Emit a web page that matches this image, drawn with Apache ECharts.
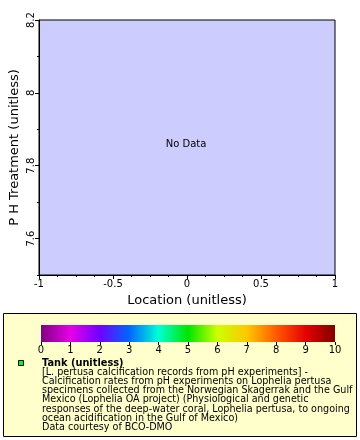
<!DOCTYPE html>
<html>
<head>
<meta charset="utf-8">
<script src="https://cdn.jsdelivr.net/npm/echarts@6/dist/echarts.min.js"></script>
<style>html,body{margin:0;padding:0;background:#fff}#c{width:360px;height:440px}</style>
</head>
<body>
<div id="c"></div>
<script>
// Data (no data points in this chart)
var seriesData = [];
var xMin = -1, xMax = 1, xInterval = 0.5;
var yMin = 7.5, yMax = 8.2, yMinorInterval = 0.1;
var yMajorTicks = [7.6, 7.8, 8.0, 8.2];
var colorbarTicks = [0, 1, 2, 3, 4, 5, 6, 7, 8, 9, 10];
var colorbarColors = ['#800080', '#e600e6', '#7000ff', '#0066ff', '#00ffd5', '#00e600', '#ccff00', '#ffc800', '#ff5a00', '#e60000', '#800000'];
var legendTitle = 'Tank (unitless)';
var legendLines = [
  '[L. pertusa calcification records from pH experiments] -',
  'Calcification rates from pH experiments on Lophelia pertusa',
  'specimens collected from the Norwegian Skagerrak and the Gulf',
  'Mexico (Lophelia OA project) (Physiological and genetic',
  'responses of the deep-water coral, Lophelia pertusa, to ongoing',
  'ocean acidification in the Gulf of Mexico)',
  'Data courtesy of BCO-DMO'
];

var FONT = 'DejaVu Sans';
var chart = echarts.init(document.getElementById('c'), null, {renderer: 'canvas'});

var stops = colorbarColors.map(function (c, i) { return {offset: i / (colorbarColors.length - 1), color: c}; });

var graphics = [
  {type: 'rect', z: -10, shape: {x: 3.5, y: 313.5, width: 353, height: 123}, style: {fill: '#ffffcc', stroke: '#000', lineWidth: 1}},
  {type: 'rect', z: 10, shape: {x: 41, y: 325, width: 294, height: 17}, style: {fill: new echarts.graphic.LinearGradient(0, 0, 1, 0, stops)}},
  {type: 'rect', z: 10, shape: {x: 18.5, y: 360.5, width: 5, height: 5}, style: {fill: '#00ff00', stroke: '#000', lineWidth: 1}},
  {type: 'text', z: 10, x: 42, y: 363, style: {text: legendTitle, font: 'bold 9.8px "' + FONT + '"', fill: '#000', textVerticalAlign: 'middle'}},
  {type: 'text', z: 10, x: 186, y: 144, style: {text: 'No Data', font: '10px "' + FONT + '"', fill: '#000', textAlign: 'center', textVerticalAlign: 'middle'}}
];
legendLines.forEach(function (t, i) {
  graphics.push({type: 'text', z: 10, x: 42, y: 372.4 + i * 9.15, style: {text: t, font: '9.6px "' + FONT + '"', fill: '#000', textVerticalAlign: 'middle'}});
});

var option = {
  animation: false,
  backgroundColor: '#fff',
  textStyle: {fontFamily: FONT},
  grid: [
    {left: 37, top: 20, width: 298, height: 255, show: true, backgroundColor: '#ccccff', borderWidth: 1, borderColor: '#000'},
    {left: 41, top: 325, width: 294, height: 17, show: false}
  ],
  xAxis: [
    {
      type: 'value', gridIndex: 0, min: xMin, max: xMax, interval: xInterval,
      name: 'Location (unitless)', nameLocation: 'middle', nameGap: 18,
      nameTextStyle: {fontSize: 13, color: '#000', fontFamily: FONT},
      axisLine: {show: true, onZero: false, lineStyle: {color: '#000', width: 1}},
      axisTick: {show: true, length: 4, lineStyle: {color: '#000'}},
      minorTick: {show: true, splitNumber: 4, length: 2, lineStyle: {color: '#000'}},
      splitLine: {show: false},
      axisLabel: {fontSize: 10, color: '#000', margin: 4, fontFamily: FONT, showMinLabel: true, showMaxLabel: true}
    },
    {
      type: 'value', gridIndex: 1, min: 0, max: 10, interval: 1,
      axisLine: {show: false, onZero: false},
      axisTick: {show: true, length: 3, inside: false, lineStyle: {color: '#000'}},
      splitLine: {show: false},
      axisLabel: {fontSize: 10, color: '#000', margin: 3, fontFamily: FONT}
    }
  ],
  yAxis: [
    {
      type: 'value', gridIndex: 0, min: yMin, max: yMax, interval: yMinorInterval,
      name: 'P H Treatment (unitless)', nameLocation: 'middle', nameGap: 18,
      nameTextStyle: {fontSize: 13, color: '#000', fontFamily: FONT},
      axisLine: {show: true, onZero: false, lineStyle: {color: '#000', width: 1}},
      axisTick: {show: true, length: 2, lineStyle: {color: '#000'}},
      splitLine: {show: false},
      axisLabel: {show: false}
    },
    {
      type: 'value', gridIndex: 0, min: yMin, max: yMax, position: 'left',
      axisLine: {show: false, onZero: false},
      axisTick: {show: true, length: 4, customValues: yMajorTicks, lineStyle: {color: '#000'}},
      splitLine: {show: false},
      axisLabel: {show: true, customValues: yMajorTicks, rotate: 90, fontSize: 10, color: '#000', margin: 3, fontFamily: FONT,
        formatter: function (v) { return String(Math.round(v * 10) / 10); }}
    },
    {type: 'value', gridIndex: 1, show: false, min: 0, max: 1}
  ],
  series: [
    {type: 'scatter', xAxisIndex: 0, yAxisIndex: 0, data: seriesData, symbolSize: 5, itemStyle: {color: '#00ff00'}}
  ],
  graphic: graphics
};
chart.setOption(option);
</script>
</body>
</html>
